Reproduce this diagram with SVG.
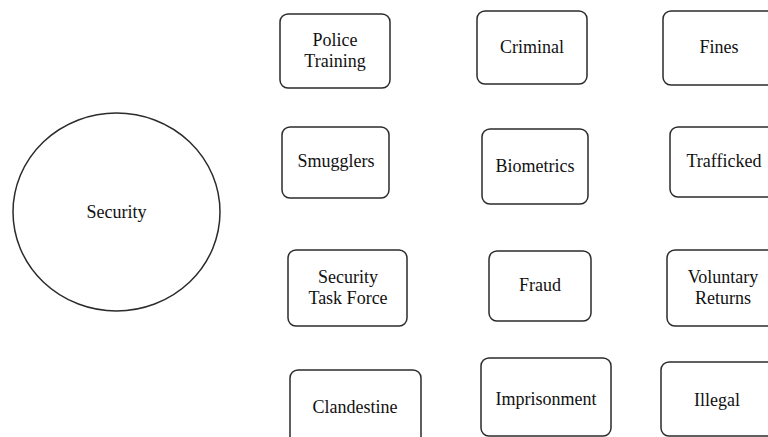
<svg xmlns="http://www.w3.org/2000/svg" width="768" height="437" viewBox="0 0 768 437">
  <style>
    .box { fill: #ffffff; stroke: #2b2b2b; stroke-width: 1.5; }
    .lbl { font-size: 18px; fill: #111111; text-anchor: middle; }
  </style>
  <rect width="768" height="437" fill="#ffffff"/>

  <g font-family="'Liberation Serif', 'DejaVu Serif', serif">
  <g id="security">
    <ellipse class="box" cx="116.5" cy="212" rx="103.5" ry="99"/>
    <text class="lbl" x="116.5" y="218">Security</text>
  </g>

  <g id="police-training">
    <rect class="box" x="280" y="14" width="110" height="74" rx="8"/>
    <text class="lbl" x="335" y="46">Police</text>
    <text class="lbl" x="335" y="67">Training</text>
  </g>
  <g id="criminal">
    <rect class="box" x="477" y="11" width="110" height="73" rx="8"/>
    <text class="lbl" x="532" y="53">Criminal</text>
  </g>
  <g id="fines">
    <rect class="box" x="663" y="11" width="112" height="74" rx="8"/>
    <text class="lbl" x="719" y="53">Fines</text>
  </g>

  <g id="smugglers">
    <rect class="box" x="282" y="127" width="107" height="71" rx="8"/>
    <text class="lbl" x="336" y="167">Smugglers</text>
  </g>
  <g id="biometrics">
    <rect class="box" x="482" y="129" width="106" height="75" rx="8"/>
    <text class="lbl" x="535" y="172">Biometrics</text>
  </g>
  <g id="trafficked">
    <rect class="box" x="670" y="127" width="105" height="70" rx="8"/>
    <text class="lbl" x="724" y="167">Trafficked</text>
  </g>

  <g id="security-task-force">
    <rect class="box" x="288" y="250" width="119" height="76" rx="8"/>
    <text class="lbl" x="348" y="283">Security</text>
    <text class="lbl" x="348" y="304">Task Force</text>
  </g>
  <g id="fraud">
    <rect class="box" x="489" y="251" width="102" height="70" rx="8"/>
    <text class="lbl" x="540" y="291">Fraud</text>
  </g>
  <g id="voluntary-returns">
    <rect class="box" x="667" y="250" width="108" height="76" rx="8"/>
    <text class="lbl" x="723" y="283">Voluntary</text>
    <text class="lbl" x="723" y="304">Returns</text>
  </g>

  <g id="clandestine">
    <rect class="box" x="290" y="370" width="131" height="75" rx="8"/>
    <text class="lbl" x="355" y="413">Clandestine</text>
  </g>
  <g id="imprisonment">
    <rect class="box" x="481" y="358" width="130" height="78" rx="8"/>
    <text class="lbl" x="546" y="405">Imprisonment</text>
  </g>
  <g id="illegal">
    <rect class="box" x="661" y="362" width="114" height="74" rx="8"/>
    <text class="lbl" x="717" y="406">Illegal</text>
  </g>
  </g>

  <g id="connectors"/>
</svg>
